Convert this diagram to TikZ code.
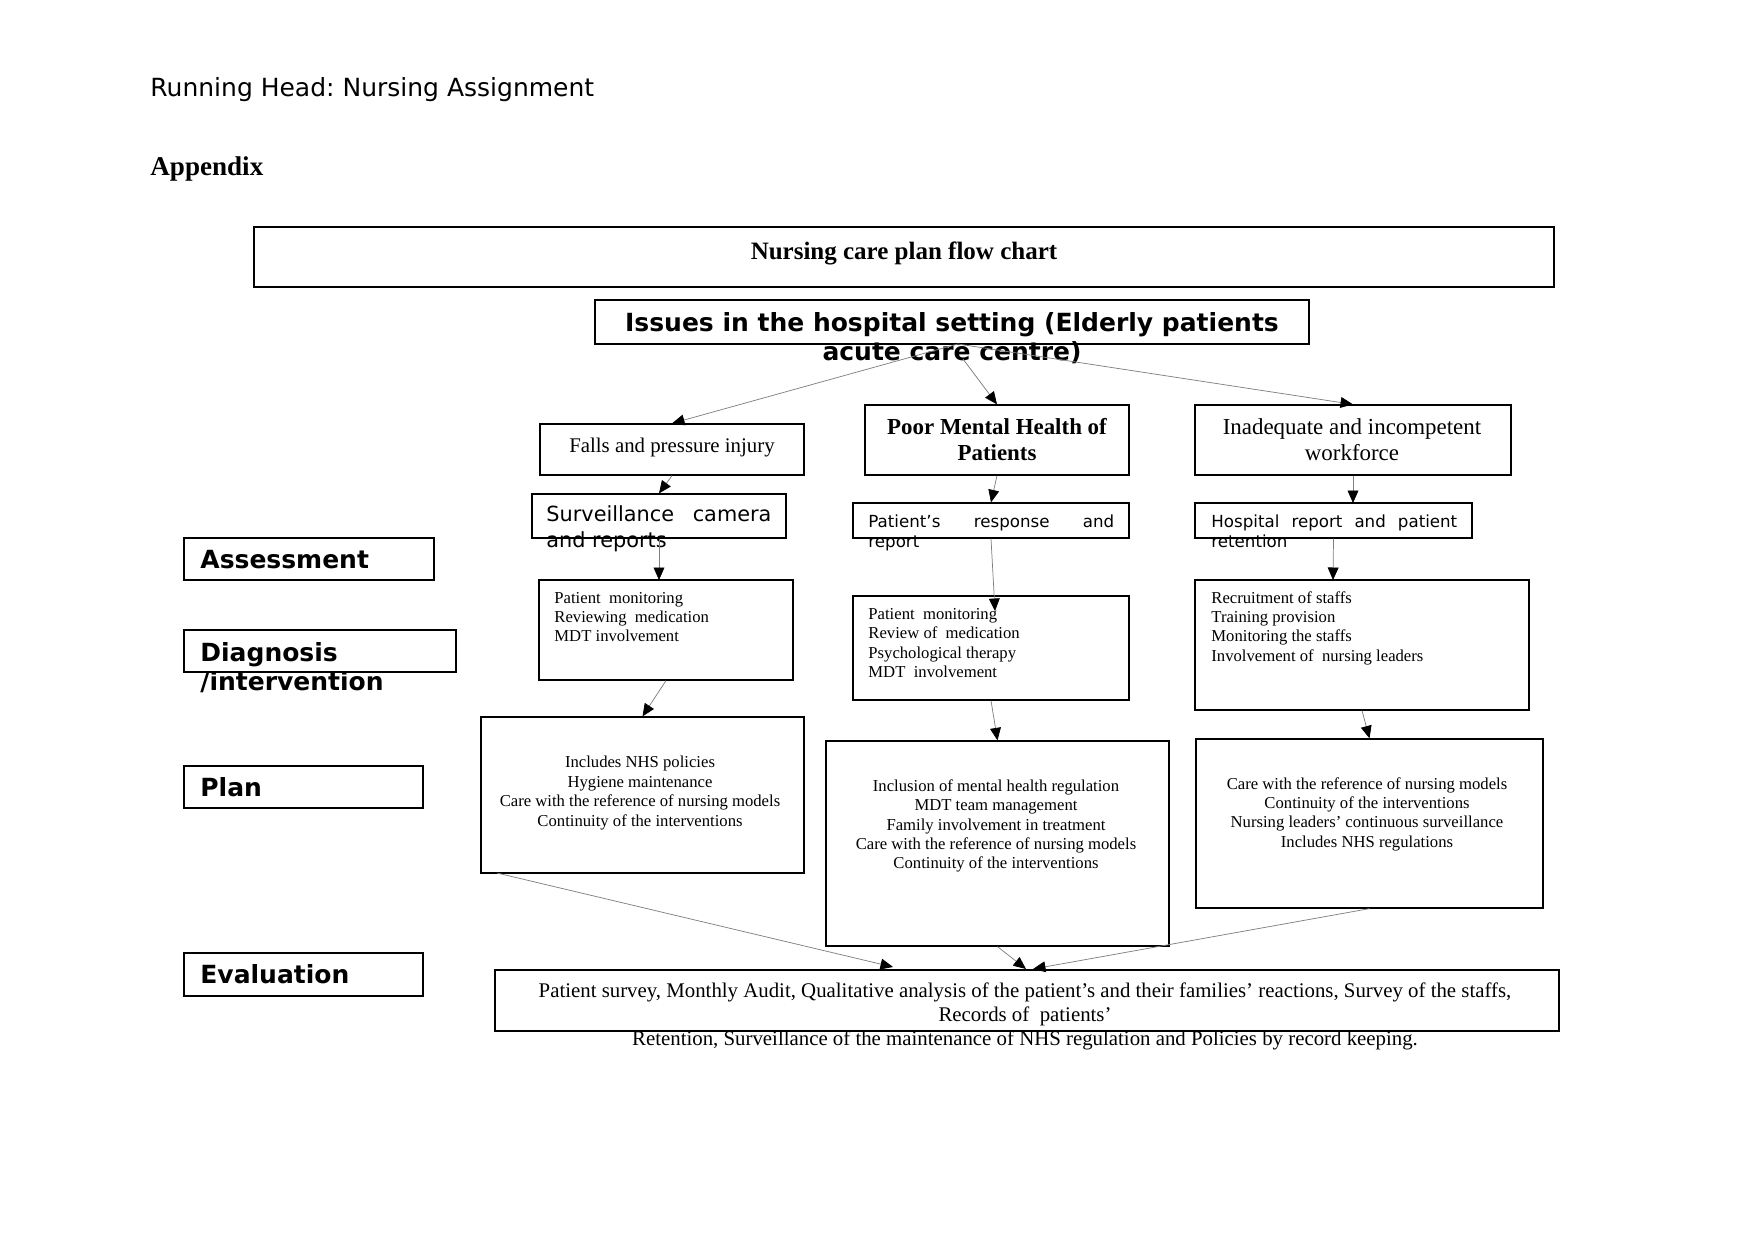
\documentclass[tikz,border=0pt]{standalone}
\usepackage{fontspec}
\setmainfont{Liberation Serif}
\setsansfont{DejaVu Sans}
\usetikzlibrary{arrows.meta,fit}
\newcommand\myfs[2]{\fontsize{#1pt}{#2pt}\selectfont}
\frenchspacing
\begin{document}
\begin{tikzpicture}[x=0.48pt,y=-0.48pt,
  box/.style={draw, line width=0.6pt, inner sep=0pt},
  conn/.style={draw=gray, line width=0.35pt, -{Triangle[length=6pt,width=5.2pt,color=black]}},
  txt/.style={inner sep=0pt},
  lab/.style={txt, anchor=west, align=left, font=\myfs{12}{14}\sffamily\bfseries},
  small/.style={txt, font=\myfs{8}{9.3}}
]
\useasboundingbox (0,0) rectangle (1754,1241);
\fill[white] (0,0) rectangle (1754,1241);

% header
\node[txt, anchor=mid west] (head) at (150,92) {\myfs{12}{14}\sffamily Running Head: Nursing Assignment};
\node[txt, anchor=mid west] (appx) at (150,171) {\myfs{13}{15}\bfseries Appendix};

% boxes
\node[box, fit={(254,227)(1554,287)}] (title) {};
\node[box, fit={(595,300)(1309,344)}] (issues) {};
\node[box, fit={(540,424)(804,475)}] (falls) {};
\node[box, fit={(865,405)(1129,475)}] (poor) {};
\node[box, fit={(1195,405)(1511,475)}] (inad) {};
\node[box, fit={(532,494)(786,538)}] (surv) {};
\node[box, fit={(853,503)(1129,538)}] (resp) {};
\node[box, fit={(1195,503)(1472,538)}] (hosp) {};
\node[box, fit={(184,538)(434,580)}] (assess) {};
\node[box, fit={(184,630)(456,672)}] (diag) {};
\node[box, fit={(184,766)(423,808)}] (plan) {};
\node[box, fit={(184,953)(423,996)}] (evall) {};
\node[box, fit={(539,580)(793,680)}] (a2) {};
\node[box, fit={(853,596)(1129,700)}] (b2) {};
\node[box, fit={(1195,580)(1529,710)}] (c2) {};
\node[box, fit={(481,717)(804,873)}] (a3) {};
\node[box, fit={(826,741)(1169,946)}] (b3) {};
\node[box, fit={(1196,739)(1543,908)}] (c3) {};
\node[box, fit={(495,970)(1559,1031)}] (ev) {};

% texts
\node[txt, anchor=mid] (titletxt) at (904,255) {\myfs{12}{14}\bfseries Nursing care plan flow chart};
\node[txt, align=center, font=\myfs{12}{13.9}\sffamily\bfseries] (issuestxt) at (952,338)
  {Issues in the hospital setting (Elderly patients\\acute care centre)};
\node[txt, anchor=mid] (fallstxt) at (672,448) {\myfs{10}{12}Falls and pressure injury};
\node[txt, align=center, font=\myfs{11}{12.5}\bfseries] (poortxt) at (997,440)
  {Poor Mental Health of\\Patients};
\node[txt, align=center, font=\myfs{11}{12.5}] (inadtxt) at (1352,440)
  {Inadequate and incompetent\\workforce};

\node[txt, anchor=mid west] (surv1) at (546,517) {\myfs{10}{12}\sffamily\makebox[108pt][s]{Surveillance camera}};
\node[txt, anchor=mid west] (surv2) at (546,543) {\myfs{10}{12}\sffamily and reports};
\node[txt, anchor=mid west] (resp1) at (868,523) {\myfs{8}{9.6}\sffamily\makebox[118pt][s]{Patient’s response and}};
\node[txt, anchor=mid west] (resp2) at (868,543) {\myfs{8}{9.6}\sffamily report};
\node[txt, anchor=mid west] (hosp1) at (1211,523) {\myfs{8}{9.6}\sffamily\makebox[118pt][s]{Hospital report and patient}};
\node[txt, anchor=mid west] (hosp2) at (1211,543) {\myfs{8}{9.6}\sffamily retention};

\node[lab, anchor=mid west] (assesstxt) at (200,564) {Assessment};
\node[lab] (diagtxt) at (200,668) {Diagnosis\\/intervention};
\node[lab, anchor=mid west] (plantxt) at (200,792) {Plan};
\node[lab, anchor=mid west] (evaltxt) at (200,979) {Evaluation};

\node[small, anchor=west, align=left] (a2txt) at (554,617)
  {Patient~ monitoring\\Reviewing~ medication\\MDT involvement};
\node[small, anchor=west, align=left] (b2txt) at (868,643)
  {Patient~ monitoring\\Review of~ medication\\Psychological therapy\\MDT~ involvement};
\node[small, anchor=west, align=left] (c2txt) at (1211,628)
  {Recruitment of staffs\\Training provision\\Monitoring the staffs\\Involvement of~ nursing leaders};
\node[small, align=center] (a3txt) at (640,793)
  {Includes NHS policies\\Hygiene maintenance\\Care with the reference of nursing models\\Continuity of the interventions};
\node[small, align=center] (b3txt) at (996,826)
  {Inclusion of mental health regulation\\MDT team management\\Family involvement in treatment\\Care with the reference of nursing models\\Continuity of the interventions};
\node[small, align=center] (c3txt) at (1367,814)
  {Care with the reference of nursing models\\Continuity of the interventions\\Nursing leaders’ continuous surveillance\\Includes NHS regulations};
\node[txt, align=center, font=\myfs{10}{11.5}] (evtxt) at (1025,1016)
  {Patient survey, Monthly Audit, Qualitative analysis of the patient’s and their families’ reactions, Survey of the staffs,\\Records of~ patients’\\Retention, Surveillance of the maintenance of NHS regulation and Policies by record keeping.};

% connector end points
\coordinate (isso) at (958,344);
\coordinate (issp) at (963,359);
\coordinate (hospin) at (1353,503);
\coordinate (a2in) at (659,580);
\coordinate (b2in) at (995,611);
\coordinate (c2in) at (1333,580);
\coordinate (a3out) at (497,873);
\coordinate (evin1) at (893,967);
\coordinate (evin2) at (1026,969);
\coordinate (evin3) at (1033,969);

% connectors
\draw[conn] (isso) -- (falls.north);
\draw[conn] (issp) -- (poor.north);
\draw[conn] (isso) -- (inad.north);
\draw[conn] (falls.south) -- (surv.north);
\draw[conn] (poor.south) -- (resp.north);
\draw[conn] (inad.south) -- (hospin);
\draw[conn] (surv.south) -- (a2in);
\draw[conn] (resp.south) -- (b2in);
\draw[conn] (hosp.south) -- (c2in);
\draw[conn] (a2.south) -- (a3.north);
\draw[conn] (b2.south) -- (b3.north);
\draw[conn] (c2.south) -- (c3.north);
\draw[conn] (a3out) -- (evin1);
\draw[conn] (b3.south) -- (evin2);
\draw[conn] (c3.south) -- (evin3);
\end{tikzpicture}
\end{document}
